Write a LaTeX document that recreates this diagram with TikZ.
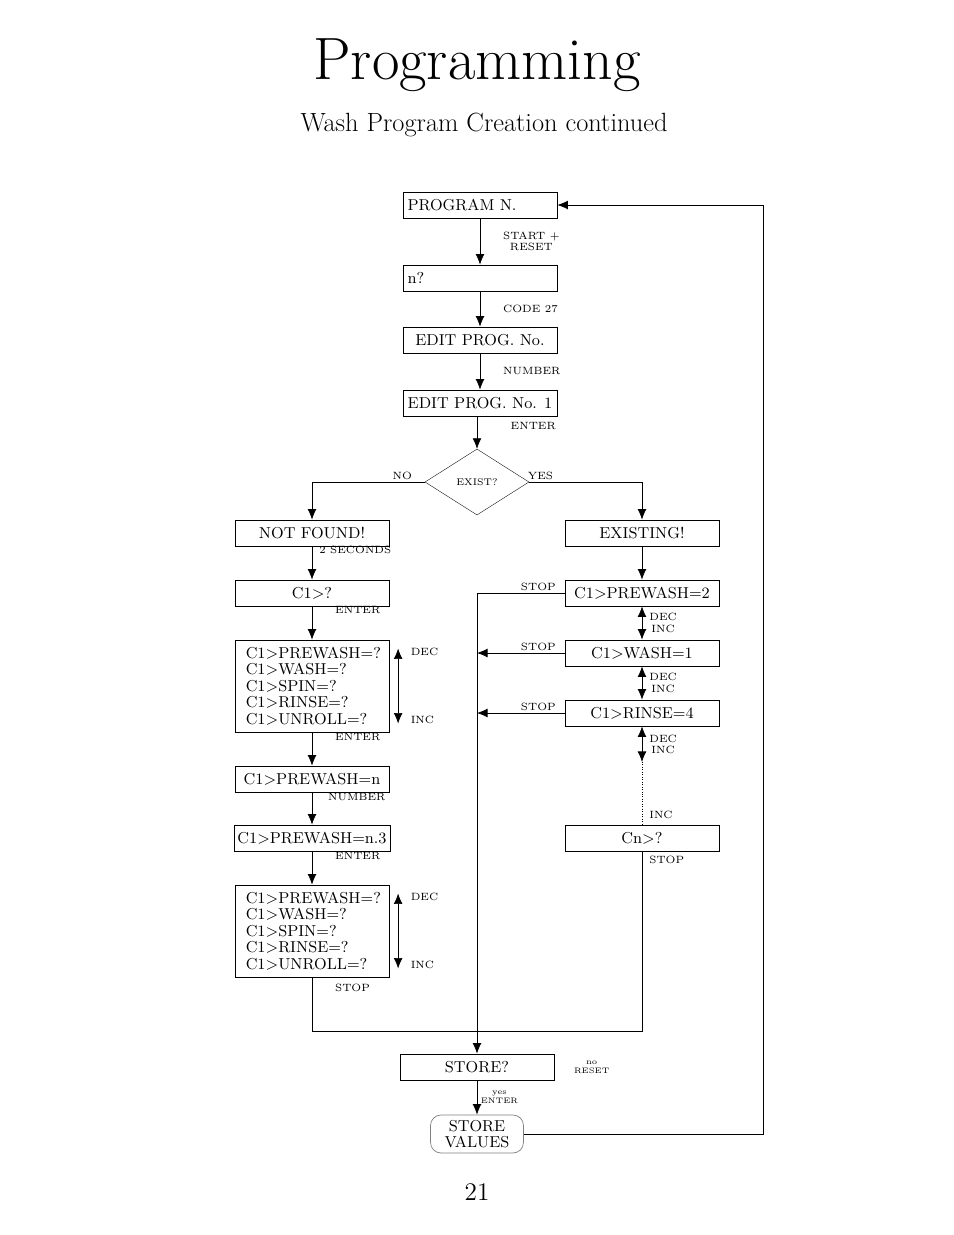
\documentclass[tikz,border=0pt]{standalone}
\usepackage{tikz}
\usetikzlibrary{positioning,arrows.meta,shapes.geometric,calc}

\begin{document}
\begin{tikzpicture}[
  x=0.02cm,y=-0.02cm,
  box/.style={rectangle,draw,thin,minimum width=3.08cm,minimum height=0.52cm,inner sep=2pt,font=\small},
  bigbox/.style={box,minimum height=1.84cm,inner xsep=6pt,text width=2.65cm,align=left,font=\small\linespread{0.85}\selectfont},
  lbl/.style={font=\fontsize{6}{6.5}\selectfont,inner sep=1pt},
  flow/.style={-{Latex[length=6pt,width=5pt]},thin},
  both/.style={{Latex[length=6pt,width=5pt]}-{Latex[length=6pt,width=5pt]},thin},
  ]
  \useasboundingbox (0,0) rectangle (954,1235);

  % titles
  \node (title) at (477,65) {\fontsize{34}{38}\selectfont Programming};
  \node (subtitle) at (484,125) {\fontsize{15}{18}\selectfont Wash Program Creation continued};
  \node (page) at (477,1192) {\Large 21};

  % centre column
  \node (prog) [box,text width=2.9cm,align=left] at (480,205) {PROGRAM N.};
  \node (n) [box,text width=2.9cm,align=left] at (480,278) {n?};
  \node (edit) [box] at (480,340) {EDIT PROG. No.};
  \node (edit1) [box] at (480,403) {EDIT PROG. No. 1};
  \node (exist) [diamond,draw,very thin,minimum width=2.08cm,minimum height=1.32cm,inner sep=0pt,font=\fontsize{5.5}{6}\selectfont,aspect=1.6] at (477,482) {EXIST?};

  % left column
  \node (nf) [box] at (312,533) {NOT FOUND!};
  \node (c1) [box] at (312,593) {C1$>$?};
  \node (list1) [bigbox] at (312,686) {C1$>$PREWASH=?\\C1$>$WASH=?\\C1$>$SPIN=?\\C1$>$RINSE=?\\C1$>$UNROLL=?};
  \node (pwn) [box] at (312,779) {C1$>$PREWASH=n};
  \node (pwn3) [box] at (312,838) {C1$>$PREWASH=n.3};
  \node (list2) [bigbox] at (312,931) {C1$>$PREWASH=?\\C1$>$WASH=?\\C1$>$SPIN=?\\C1$>$RINSE=?\\C1$>$UNROLL=?};

  % right column
  \node (ex) [box] at (642,533) {EXISTING!};
  \node (pw2) [box] at (642,593) {C1$>$PREWASH=2};
  \node (wash) [box] at (642,653) {C1$>$WASH=1};
  \node (rinse) [box] at (642,713) {C1$>$RINSE=4};
  \node (cn) [box] at (642,838) {Cn$>$?};

  % bottom
  \node (store) [box] at (477,1067) {STORE?};
  \node (values) [rectangle,rounded corners=6pt,draw=gray,thin,minimum width=1.86cm,minimum height=0.76cm,inner sep=1pt,align=center,font=\small\linespread{0.85}\selectfont] at (477,1134) {STORE\\VALUES};

  \coordinate (dotend) at (642,762);
  \coordinate (join) at (477,1031);
  \coordinate (stopx) at (477,593);

  % main flow
  \draw[flow] (prog) -- node[lbl,right=12pt,align=center] {START +\\RESET} (n);
  \draw[flow] (n) -- node[lbl,right=12pt] {CODE 27} (edit);
  \draw[flow] (edit) -- node[lbl,right=12pt] {NUMBER} (edit1);
  \draw[flow] (edit1.south -| exist.north) -- node[lbl,right=18pt,pos=0.3] {ENTER} (exist.north);
  \draw[flow] (exist.west) -- node[lbl,above,pos=0.2] {NO} (exist.west -| nf.north) -- (nf.north);
  \draw[flow] (exist.east) -- node[lbl,above,pos=0.1] {YES} (exist.east -| ex.north) -- (ex.north);

  \draw[flow] (nf) -- node[lbl,right=3pt,pos=0.1] {2 SECONDS} (c1);
  \draw[flow] (c1) -- node[lbl,right=12pt,pos=0.1] {ENTER} (list1);
  \draw[flow] (list1) -- node[lbl,right=12pt,pos=0.15] {ENTER} (pwn);
  \draw[flow] (pwn) -- node[lbl,right=8pt,pos=0.15] {NUMBER} (pwn3);
  \draw[flow] (pwn3) -- node[lbl,right=12pt,pos=0.15] {ENTER} (list2);
  \draw[both] ([xshift=5pt,yshift=-5pt]list1.north east) -- node[lbl,pos=0.05,right=6pt] {DEC} node[lbl,pos=0.95,right=6pt] {INC} ([xshift=5pt,yshift=5pt]list1.south east);
  \draw[both] ([xshift=5pt,yshift=-5pt]list2.north east) -- node[lbl,pos=0.05,right=6pt] {DEC} node[lbl,pos=0.95,right=6pt] {INC} ([xshift=5pt,yshift=5pt]list2.south east);

  \draw[flow] (ex) -- (pw2);
  \draw[both] (pw2) -- node[lbl,right=3pt,align=center] {DEC\\INC} (wash);
  \draw[both] (wash) -- node[lbl,right=3pt,align=center] {DEC\\INC} (rinse);
  \draw[both] (rinse.south) -- node[lbl,right=3pt,align=center] {DEC\\INC} (dotend);
  \draw[thin,densely dotted] (dotend) -- node[lbl,right=3pt,pos=0.85] {INC} (cn.north);

  % stop paths
  \draw[flow] (pw2.west) -- node[lbl,above,pos=0.3] {STOP} (stopx) -- (store.north);
  \draw[flow] (wash.west) -- node[lbl,above,pos=0.3] {STOP} (wash.west -| stopx);
  \draw[flow] (rinse.west) -- node[lbl,above,pos=0.3] {STOP} (rinse.west -| stopx);
  \draw[thin] (list2.south) -- node[lbl,right=12pt,pos=0.2] {STOP} (list2.south |- join) -- (join -| cn.south) -- node[lbl,right=3pt,pos=0.95] {STOP} (cn.south);

  \node (noreset) [lbl,font=\fontsize{4.5}{5}\selectfont,align=center,right=10pt of store] {no\\RESET};
  \draw[flow] (store) -- node[lbl,right=1pt,align=center,font=\fontsize{4.5}{5}\selectfont] {yes\\ENTER} (values);
  \draw[flow] (values.east) -- (763,1134) -- (763,205) -- (prog.east);
\end{tikzpicture}
\end{document}
